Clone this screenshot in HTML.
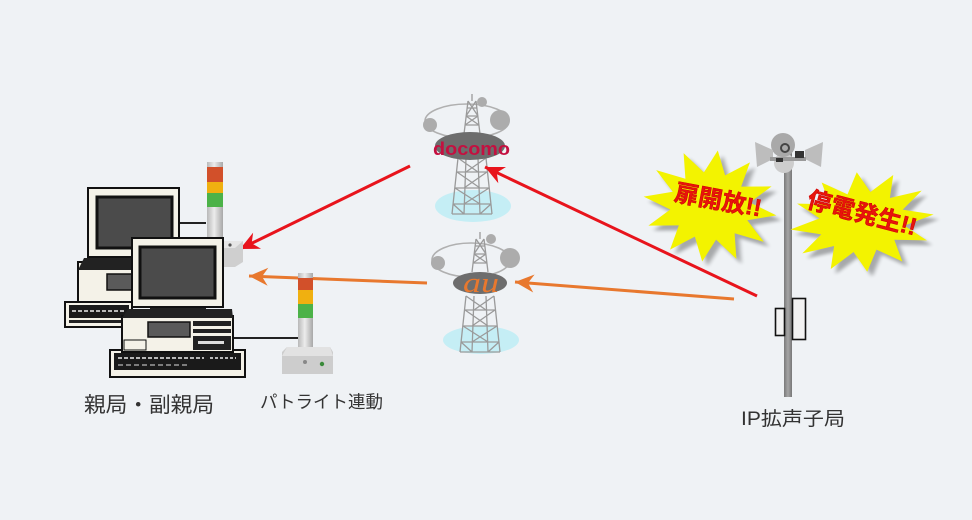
<!DOCTYPE html>
<html><head><meta charset="utf-8"><style>
html,body{margin:0;padding:0;background:#eff2f5;}
svg{display:block;}
</style></head><body>
<svg width="972" height="520" viewBox="0 0 972 520" xmlns="http://www.w3.org/2000/svg">
<defs>
<marker id="arR" viewBox="-20 -10 22 20" refX="0" refY="0" markerWidth="22" markerHeight="20" orient="auto" markerUnits="userSpaceOnUse"><path d="M0,0 L-19,-9 L-13,0 L-19,9Z" fill="#e8141c"/></marker>
<marker id="arO" viewBox="-20 -10 22 20" refX="0" refY="0" markerWidth="22" markerHeight="20" orient="auto" markerUnits="userSpaceOnUse"><path d="M0,0 L-19,-9 L-13,0 L-19,9Z" fill="#e8782e"/></marker>
<linearGradient id="pl" x1="0" x2="1" y1="0" y2="0"><stop offset="0" stop-color="#b8b8b8"/><stop offset="0.45" stop-color="#ececec"/><stop offset="1" stop-color="#a8a8a8"/></linearGradient>
<linearGradient id="pole" x1="0" x2="1" y1="0" y2="0"><stop offset="0" stop-color="#7a7a7a"/><stop offset="0.5" stop-color="#a5a5a5"/><stop offset="1" stop-color="#777"/></linearGradient>
<filter id="bl" x="-20%" y="-20%" width="140%" height="140%"><feGaussianBlur stdDeviation="3"/></filter>
<polygon id="burst" points="100,0 58,16 87,50 42,42 50,87 16,58 0,100 -16,58 -50,87 -42,42 -87,50 -58,16 -100,0 -58,-16 -87,-50 -42,-42 -50,-87 -16,-58 0,-100 16,-58 50,-87 42,-42 87,-50 58,-16"/>
<g id="lat" stroke="#9a9a9a" stroke-width="1.3" fill="none">
<path d="M472,94 L472,101 M468,101 L464,134 M476,101 L480,134 M467,108 L477,108 M466,116 L478,116 M465,125 L479,125 M468,101 L478,116 M476,101 L466,116 M466,116 L479,125 M478,116 L465,125"/>
<path d="M458,158 L452,214 M486,158 L492,214 M466,158 L464,214 M478,158 L480,214 M457,172 L487,172 M455,188 L489,188 M453,204 L491,204 M452,214 L492,214 M458,158 L478,172 M486,158 L466,172 M457,172 L480,188 M487,172 L464,188 M455,188 L480,204 M489,188 L464,204 M453,204 L464,214 M491,204 L480,214"/>
</g>
</defs>

<!-- docomo tower -->
<ellipse cx="473" cy="206" rx="38" ry="16" fill="#c5eef5"/>
<ellipse cx="467" cy="121" rx="42" ry="17" fill="none" stroke="#b0b0b0" stroke-width="1.6"/>
<circle cx="430" cy="125" r="7" fill="#acacac"/>
<circle cx="482" cy="102" r="5" fill="#acacac"/>
<circle cx="500" cy="120" r="10" fill="#acacac"/>
<use href="#lat"/>
<ellipse cx="470" cy="146" rx="35" ry="14" fill="#6d6d6d"/>
<text x="433" y="155" font-family="Liberation Sans, sans-serif" font-weight="bold" font-size="18" fill="#c41040" textLength="77" lengthAdjust="spacingAndGlyphs">docomo</text>

<!-- au tower -->
<ellipse cx="481" cy="340" rx="38" ry="14" fill="#c5eef5"/>
<ellipse cx="471" cy="260" rx="39" ry="17" fill="none" stroke="#b0b0b0" stroke-width="1.6"/>
<circle cx="438" cy="263" r="7" fill="#acacac"/>
<circle cx="491" cy="239" r="5" fill="#acacac"/>
<circle cx="510" cy="258" r="10" fill="#acacac"/>
<use href="#lat" transform="translate(8,138)"/>
<ellipse cx="480" cy="283" rx="27" ry="11" fill="#6d6d6d"/>
<text x="463" y="292" font-family="Liberation Serif, serif" font-style="italic" font-size="28" fill="#e8782e" textLength="36" lengthAdjust="spacingAndGlyphs">au</text>

<!-- arrows -->
<line x1="410" y1="166" x2="240" y2="249" stroke="#e8141c" stroke-width="3" marker-end="url(#arR)"/>
<line x1="757" y1="296" x2="485" y2="167" stroke="#e8141c" stroke-width="3" marker-end="url(#arR)"/>
<line x1="427" y1="283" x2="249" y2="276" stroke="#e8782e" stroke-width="3" marker-end="url(#arO)"/>
<line x1="734" y1="299" x2="515" y2="282" stroke="#e8782e" stroke-width="3" marker-end="url(#arO)"/>

<!-- back computer -->
<line x1="178" y1="223" x2="206" y2="223" stroke="#222" stroke-width="2"/>
<!-- patlite 1 -->
<rect x="207" y="162" width="16" height="80" fill="url(#pl)"/>
<rect x="207" y="167" width="16" height="15" fill="#d2502a"/>
<rect x="207" y="182" width="16" height="11" fill="#f0b010"/>
<rect x="207" y="193" width="16" height="14" fill="#4cb248"/>
<polygon points="219,241 243,241 243,262 235,267 219,267" fill="#cfcfcf"/>
<polygon points="219,241 243,241 235,248 219,248" fill="#e6e6e6"/>
<circle cx="230" cy="245" r="1.6" fill="#555"/>

<rect x="65" y="302" width="67" height="25" fill="#f4f2e8" stroke="#111" stroke-width="2"/>
<rect x="69" y="305" width="60" height="13" fill="#1a1a1a"/>
<path d="M72,311 h54" stroke="#eee" stroke-width="1.5" stroke-dasharray="4,2"/>
<rect x="69" y="320" width="60" height="3" fill="#222"/>
<rect x="78" y="262" width="60" height="40" fill="#f4f2e8" stroke="#111" stroke-width="2"/>
<polygon points="84,258 138,258 138,270 78,270" fill="#222"/>
<rect x="107" y="274" width="26" height="16" fill="#5a5a5a" stroke="#111" stroke-width="1.5"/>
<rect x="112" y="253" width="45" height="8" fill="#222"/>
<rect x="88" y="188" width="91" height="69" fill="#f4f2e8" stroke="#111" stroke-width="2"/>
<rect x="97" y="197" width="75" height="51" fill="#4b4b4b" stroke="#111" stroke-width="3"/>

<!-- front computer -->
<line x1="233" y1="338" x2="300" y2="338" stroke="#222" stroke-width="2"/>
<rect x="110" y="350" width="135" height="27" fill="#f4f2e8" stroke="#111" stroke-width="2"/>
<rect x="114" y="353" width="127" height="17" fill="#1a1a1a"/>
<path d="M118,358 h86" stroke="#eee" stroke-width="1.5" stroke-dasharray="4,2"/>
<path d="M210,358 h26" stroke="#eee" stroke-width="1.5" stroke-dasharray="3,2"/>
<path d="M118,365 h70" stroke="#ddd" stroke-width="1" stroke-dasharray="5,3"/>
<rect x="122" y="316" width="111" height="36" fill="#f4f2e8" stroke="#111" stroke-width="2"/>
<polygon points="128,309 232,309 233,318 122,318" fill="#222"/>
<rect x="148" y="322" width="42" height="15" fill="#5a5a5a" stroke="#111" stroke-width="1.5"/>
<rect x="193" y="321" width="38" height="5" fill="#222"/>
<rect x="193" y="329" width="38" height="4" fill="#222"/>
<rect x="193" y="336" width="38" height="14" fill="#222"/>
<rect x="198" y="341" width="26" height="3" fill="#ddd"/>
<rect x="124" y="340" width="22" height="10" fill="#f4f2e8" stroke="#111" stroke-width="1"/>
<rect x="150" y="305" width="56" height="7" fill="#222"/>
<rect x="158" y="304" width="40" height="3" fill="#f4f2e8"/>
<rect x="132" y="238" width="91" height="69" fill="#f4f2e8" stroke="#111" stroke-width="2"/>
<rect x="140" y="247" width="75" height="51" fill="#4b4b4b" stroke="#111" stroke-width="3"/>

<!-- patlite 2 -->
<rect x="298" y="273" width="15" height="76" fill="url(#pl)"/>
<rect x="298" y="278" width="15" height="12" fill="#d2502a"/>
<rect x="298" y="290" width="15" height="14" fill="#f0b010"/>
<rect x="298" y="304" width="15" height="14" fill="#4cb248"/>
<polygon points="287,347 330,347 333,352 333,374 282,374 282,352" fill="#cdcdcd"/>
<polygon points="287,347 330,347 333,356 282,356" fill="#e2e2e2"/>
<circle cx="322" cy="364" r="2.2" fill="#3a8a3a"/>
<circle cx="305" cy="362" r="2" fill="#888"/>

<!-- pole -->
<rect x="784" y="150" width="8" height="247" fill="url(#pole)"/>
<circle cx="784" cy="163" r="10" fill="#cdcdcd"/>
<circle cx="783" cy="145" r="12" fill="#a9a9a9"/>
<circle cx="785" cy="148" r="4" fill="none" stroke="#444" stroke-width="2"/>
<polygon points="773,150 773,159 757,167 755,142" fill="#bdbdbd"/>
<polygon points="805,150 805,159 821,167 823,142" fill="#bdbdbd"/>
<rect x="770" y="157" width="36" height="4" fill="#9a9a9a"/>
<rect x="795" y="151" width="9" height="7" fill="#333"/>
<rect x="776" y="158" width="7" height="4" fill="#333"/>
<rect x="775.5" y="308.5" width="9" height="27" fill="#f2f2f2" stroke="#111" stroke-width="1.6"/>
<rect x="792.5" y="298.5" width="13" height="41" fill="#f2f2f2" stroke="#111" stroke-width="1.6"/>

<!-- bursts -->
<use href="#burst" transform="translate(715,211) rotate(8) scale(0.67,0.56)" fill="#000" opacity="0.3" filter="url(#bl)"/>
<use href="#burst" transform="translate(710,206) rotate(8) scale(0.67,0.56)" fill="#f3f300"/>
<use href="#burst" transform="translate(867,227) rotate(-6) scale(0.72,0.5)" fill="#000" opacity="0.3" filter="url(#bl)"/>
<use href="#burst" transform="translate(862,222) rotate(-6) scale(0.72,0.5)" fill="#f3f300"/>

<text x="0" y="0" text-anchor="middle" dominant-baseline="central" transform="translate(718,201) rotate(10.6)" font-family="Liberation Sans, 'Noto Sans CJK JP', sans-serif" font-weight="bold" font-size="24" fill="#e8140c" stroke="#c00" stroke-width="0.5">扉開放!!</text>
<text x="0" y="0" text-anchor="middle" dominant-baseline="central" transform="translate(862,214) rotate(14.7)" font-family="Liberation Sans, 'Noto Sans CJK JP', sans-serif" font-weight="bold" font-size="24" fill="#e8140c" stroke="#c00" stroke-width="0.5">停電発生!!</text>

<!-- labels -->
<text x="84" y="412" font-family="Liberation Sans, 'Noto Sans CJK JP', sans-serif" font-size="21" fill="#333" textLength="130" lengthAdjust="spacingAndGlyphs">親局・副親局</text>
<text x="260" y="408" font-family="Liberation Sans, 'Noto Sans CJK JP', sans-serif" font-size="17.5" fill="#333" textLength="123" lengthAdjust="spacingAndGlyphs">パトライト連動</text>
<text x="741" y="425" font-family="Liberation Sans, 'Noto Sans CJK JP', sans-serif" font-size="19" fill="#333" textLength="104" lengthAdjust="spacingAndGlyphs">IP拡声子局</text>
</svg>
</body></html>
